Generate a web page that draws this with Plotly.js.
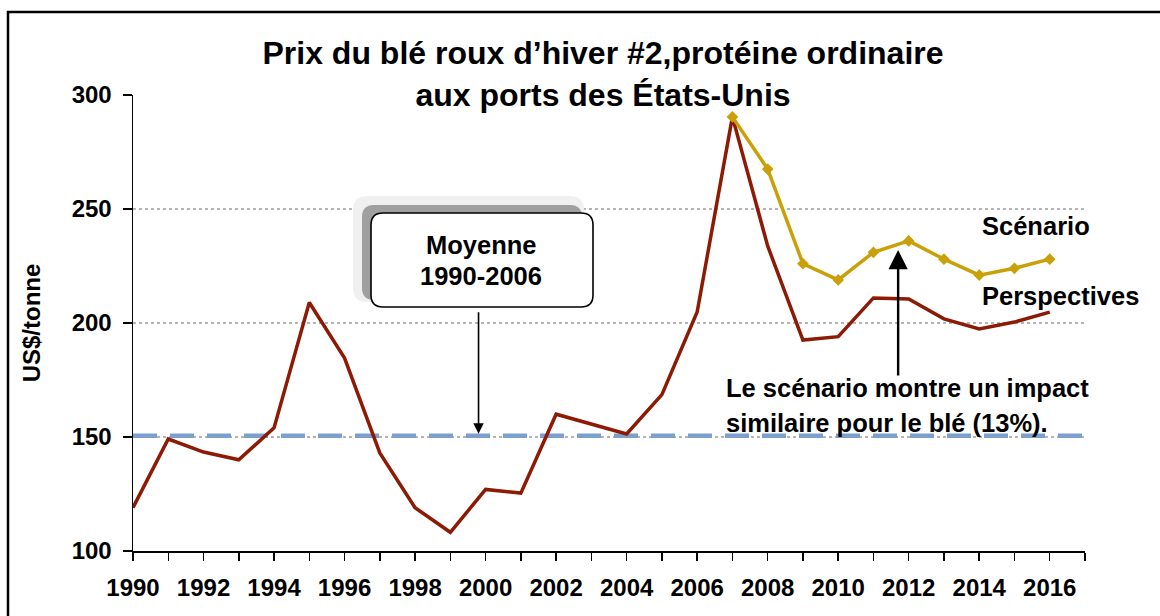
<!DOCTYPE html>
<html>
<head>
<meta charset="utf-8">
<script src="https://cdn.plot.ly/plotly-3.0.1.min.js"></script>
<style>
  html, body { margin: 0; padding: 0; background: #ffffff; }
  #chart { width: 1160px; height: 616px; }
</style>
</head>
<body>
<div id="chart"></div>
<script>
// ---- Data ----
const years = [1990, 1991, 1992, 1993, 1994, 1995, 1996, 1997, 1998, 1999, 2000, 2001, 2002,
               2003, 2004, 2005, 2006, 2007, 2008, 2009, 2010, 2011, 2012, 2013, 2014, 2015, 2016];
const perspectives = [119, 149.1, 143.4, 140, 154, 209, 184.6, 143, 119, 108.2, 127, 125.4, 160,
                      155.5, 151.3, 168.6, 204.8, 290.4, 233.8, 192.5, 194, 211, 210.5, 201.8, 197.4, 200.4, 204.8];
const scenarioYears = [2007, 2008, 2009, 2010, 2011, 2012, 2013, 2014, 2015, 2016];
const scenario = [290.4, 267.5, 226, 218.9, 231, 236, 228, 221, 224, 228];
const averageYears = [1990, 2017];
const averageValues = [150.6, 150.6];

const titleText = "Prix du blé roux d’hiver #2,protéine ordinaire<br>aux ports des États-Unis";
const yTitle = "US$/tonne";
const avgBoxLines = ["Moyenne", "1990-2006"];
const labelScenario = "Scénario";
const labelPerspectives = "Perspectives";
const noteLines = ["Le scénario montre un impact", "similaire pour le blé (13%)."];

// ---- Layout geometry (pixels) ----
const W = 1160, H = 616;
const M = {l: 133, r: 75, t: 95, b: 65};
const PW = W - M.l - M.r, PH = H - M.t - M.b;
const px = x => (x - M.l) / PW;          // pixel -> paper x
const py = y => (H - M.b - y) / PH;      // pixel -> paper y

function roundRect(x0, y0, x1, y1, r) {
  const X0 = px(x0), X1 = px(x1), Y0 = py(y0), Y1 = py(y1);
  const rx = r / PW, ry = r / PH;
  return `M ${X0 + rx},${Y0} L ${X1 - rx},${Y0} Q ${X1},${Y0} ${X1},${Y0 - ry} ` +
         `L ${X1},${Y1 + ry} Q ${X1},${Y1} ${X1 - rx},${Y1} L ${X0 + rx},${Y1} ` +
         `Q ${X0},${Y1} ${X0},${Y1 + ry} L ${X0},${Y0 - ry} Q ${X0},${Y0} ${X0 + rx},${Y0} Z`;
}

const FONT = "Liberation Sans, Arial, sans-serif";

const traces = [
  {
    x: averageYears, y: averageValues, type: "scatter", mode: "lines",
    line: {color: "#7BA0CD", width: 4.5, dash: "24px,13px"},
    hoverinfo: "skip", showlegend: false
  },
  {
    x: years, y: perspectives, type: "scatter", mode: "lines", name: labelPerspectives,
    line: {color: "#8C1A04", width: 3.5}, showlegend: false
  },
  {
    x: scenarioYears, y: scenario, type: "scatter", mode: "lines+markers", name: labelScenario,
    line: {color: "#C9A007", width: 3.5},
    marker: {symbol: "diamond", size: 9, color: "#C9A007"},
    showlegend: false, cliponaxis: false
  }
];

const shapes = [
  // outer frame
  {type: "rect", xref: "paper", yref: "paper", x0: px(8), y0: py(640), x1: px(1180), y1: py(12),
   line: {color: "#000", width: 2.5}, fillcolor: "rgba(0,0,0,0)", layer: "above"},
  // shadow of the "Moyenne" box
  {type: "path", xref: "paper", yref: "paper", path: roundRect(353, 196, 584, 302, 14),
   fillcolor: "#f0f0f0", line: {width: 0}, layer: "above"},
  {type: "path", xref: "paper", yref: "paper", path: roundRect(362, 205, 582, 300, 12),
   fillcolor: "#a0a0a0", line: {width: 0}, layer: "above"},
  // "Moyenne" box
  {type: "path", xref: "paper", yref: "paper", path: roundRect(371, 213, 593, 307, 12),
   fillcolor: "#ffffff", line: {color: "#000", width: 1.6}, layer: "above"}
];

const annFont = {family: FONT, size: 25.5, color: "#000", weight: "bold"};
const annotations = [
  {xref: "paper", yref: "paper", x: px(481), y: py(245), text: avgBoxLines[0], showarrow: false,
   font: annFont, xanchor: "center", yanchor: "middle"},
  {xref: "paper", yref: "paper", x: px(481), y: py(276), text: avgBoxLines[1], showarrow: false,
   font: annFont, xanchor: "center", yanchor: "middle"},
  // arrow from box to average line
  {x: 1999.8, y: 150.6, xref: "x", yref: "y", text: "", showarrow: true,
   ax: 0, ay: -125, arrowhead: 2, arrowsize: 1.3, arrowwidth: 1.6, arrowcolor: "#000", standoff: 2},
  // series labels
  {xref: "paper", yref: "paper", x: px(980), y: py(226), text: labelScenario, showarrow: false,
   font: annFont, xanchor: "left", yanchor: "middle"},
  {xref: "paper", yref: "paper", x: px(980), y: py(296), text: labelPerspectives, showarrow: false,
   font: annFont, xanchor: "left", yanchor: "middle"},
  // note
  {xref: "paper", yref: "paper", x: px(724), y: py(388), text: noteLines[0], showarrow: false,
   font: annFont, xanchor: "left", yanchor: "middle"},
  {xref: "paper", yref: "paper", x: px(724), y: py(423), text: noteLines[1], showarrow: false,
   font: annFont, xanchor: "left", yanchor: "middle"},
  // arrow to the scenario
  {x: 2011.7, y: 232, xref: "x", yref: "y", text: "", showarrow: true,
   ax: 0, ay: 127, arrowhead: 2, arrowsize: 1.6, arrowwidth: 2.4, arrowcolor: "#000", standoff: 0}
];

const layout = {
  width: W, height: H,
  margin: M,
  paper_bgcolor: "#ffffff", plot_bgcolor: "#ffffff",
  font: {family: FONT, size: 24, color: "#000"},
  title: {
    text: titleText,
    font: {family: FONT, size: 32, color: "#000", weight: "bold"},
    xref: "container", x: 603 / W, xanchor: "center",
    yref: "container", y: 1 - 64 / H, yanchor: "top"
  },
  xaxis: {
    range: [1990, 2017], tick0: 1990, dtick: 2,
    showgrid: false, zeroline: false,
    showline: true, linecolor: "#000", linewidth: 1.5,
    ticks: "outside", ticklen: 8, tickwidth: 1.5, tickcolor: "#000",
    minor: {dtick: 1, ticks: "outside", ticklen: 8, tickwidth: 1.5, tickcolor: "#000", showgrid: false},
    tickfont: {family: FONT, size: 24, color: "#000", weight: "bold"},
    ticklabelstandoff: 7,
    fixedrange: true
  },
  yaxis: {
    range: [100, 300], tick0: 100, dtick: 50,
    showgrid: true, gridcolor: "#b4b4b4", gridwidth: 1.5, griddash: "dot",
    zeroline: false,
    showline: true, linecolor: "#000", linewidth: 1.5,
    ticks: "outside", ticklen: 9, tickwidth: 1.5, tickcolor: "#000",
    tickfont: {family: FONT, size: 24, color: "#000", weight: "bold"},
    ticklabelstandoff: 6,
    title: {text: yTitle, font: {family: FONT, size: 24, color: "#000", weight: "bold"}, standoff: 24},
    fixedrange: true
  },
  shapes: shapes,
  annotations: annotations,
  showlegend: false
};

Plotly.newPlot("chart", traces, layout, {displayModeBar: false, staticPlot: true});
</script>
</body>
</html>
